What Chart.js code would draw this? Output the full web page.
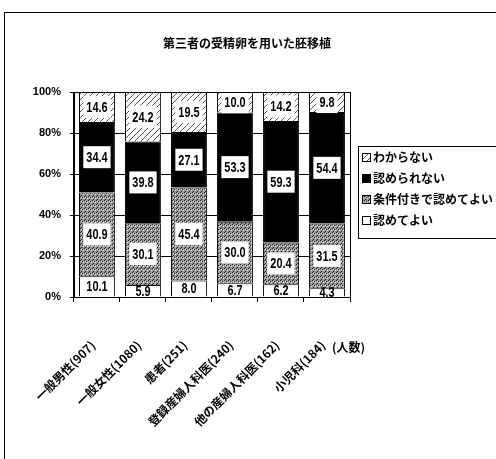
<!DOCTYPE html>
<html>
<head>
<meta charset="utf-8">
<script src="https://cdn.jsdelivr.net/npm/chart.js@4.4.1/dist/chart.umd.min.js"></script>
<style>
  body { margin: 0; background: #fff; }
  #wrap { width: 496px; height: 459px; }
</style>
</head>
<body>
<div id="wrap"><canvas id="chart"></canvas></div>
<script>
const chartTitle = "第三者の受精卵を用いた胚移植";
const categories = ["一般男性(907)", "一般女性(1080)", "患者(251)", "登録産婦人科医(240)", "他の産婦人科医(162)", "小児科(184)"];
const seriesNames = ["認めてよい", "条件付きで認めてよい", "認められない", "わからない"];
// bottom to top
const okValues = [10.1, 5.9, 8.0, 6.7, 6.2, 4.3];
const conditionalValues = [40.9, 30.1, 45.4, 30.0, 20.4, 31.5];
const notOkValues = [34.4, 39.8, 27.1, 53.3, 59.3, 54.4];
const unknownValues = [14.6, 24.2, 19.5, 10.0, 14.2, 9.8];
const yTicks = [0, 20, 40, 60, 80, 100];
const unitNote = "(人数)";

const numFont = '"Liberation Sans", Arial, sans-serif';
const jpFont = '"Noto Sans CJK JP", sans-serif';

// fill patterns like the printed original
function makeHatch() {
  const c = document.createElement("canvas");
  c.width = 6; c.height = 6;
  const g = c.getContext("2d");
  g.fillStyle = "#fff";
  g.fillRect(0, 0, 6, 6);
  g.strokeStyle = "#555";
  g.lineWidth = 1;
  g.beginPath();
  g.moveTo(0, 6); g.lineTo(6, 0);
  g.moveTo(-1, 1); g.lineTo(1, -1);
  g.moveTo(5, 7); g.lineTo(7, 5);
  g.stroke();
  return g.createPattern(c, "repeat");
}

function makeStipple() {
  const c = document.createElement("canvas");
  c.width = 4; c.height = 4;
  const g = c.getContext("2d");
  g.fillStyle = "#959595";
  g.fillRect(0, 0, 4, 4);
  g.fillStyle = "#222";
  g.fillRect(0, 0, 1, 1);
  g.fillRect(2, 1, 1, 1);
  g.fillRect(1, 3, 1, 1);
  g.fillStyle = "#e8e8e8";
  g.fillRect(3, 2, 1, 1);
  g.fillRect(1, 1, 1, 1);
  return g.createPattern(c, "repeat");
}

const fills = ["#ffffff", makeStipple(), "#000000", makeHatch()];
const seriesData = [okValues, conditionalValues, notOkValues, unknownValues];

const datasets = seriesNames.map((name, i) => ({
  label: name,
  data: seriesData[i],
  backgroundColor: fills[i],
  borderColor: "#000",
  borderWidth: 1,
  categoryPercentage: 1.0,
  barPercentage: 0.78,
}));

// white boxes with the values (narrowed digits like the original)
const valueLabels = {
  id: "valueLabels",
  afterDatasetsDraw(chart) {
    const ctx = chart.ctx;
    ctx.save();
    ctx.font = "bold 14px " + numFont;
    ctx.textAlign = "center";
    ctx.textBaseline = "middle";
    const squeeze = 0.78;
    chart.data.datasets.forEach((ds, i) => {
      const meta = chart.getDatasetMeta(i);
      meta.data.forEach((bar, j) => {
        const txt = ds.data[j].toFixed(1);
        const cy = (bar.y + bar.base) / 2;
        const w = ctx.measureText(txt).width * squeeze + 6;
        if (i > 0) {
          ctx.fillStyle = "#fff";
          ctx.fillRect(bar.x - w / 2, cy - 11, w, 22);
        }
        ctx.fillStyle = "#000";
        ctx.save();
        ctx.translate(bar.x, cy + 1);
        ctx.scale(squeeze, 1);
        ctx.fillText(txt, 0, 0);
        ctx.restore();
      });
    });
    ctx.restore();
  },
};

// frame, title, plot border, legend, unit note
const decorations = {
  id: "decorations",
  afterDraw(chart) {
    const ctx = chart.ctx;
    const a = chart.chartArea;
    ctx.save();
    ctx.strokeStyle = "#000";
    ctx.lineWidth = 1;
    ctx.beginPath();
    ctx.moveTo(4, 12.5); ctx.lineTo(496, 12.5);
    ctx.moveTo(4.5, 12); ctx.lineTo(4.5, 459);
    ctx.stroke();
    ctx.strokeRect(Math.round(a.left) + 0.5, Math.round(a.top) + 0.5, Math.round(a.right - a.left), Math.round(a.bottom - a.top));

    ctx.fillStyle = "#000";
    ctx.font = "bold 12px " + jpFont;
    ctx.textAlign = "center";
    ctx.textBaseline = "middle";
    ctx.fillText(chartTitle, 247, 43);

    ctx.font = "bold 12px " + jpFont;
    ctx.textAlign = "left";
    ctx.fillText(unitNote, 332, 347);

    // legend
    const lx = 358, ly = 146;
    ctx.strokeRect(lx + 0.5, ly + 0.5, 150, 92);
    ctx.font = "bold 12px " + jpFont;
    const order = [3, 2, 1, 0];
    order.forEach((di, k) => {
      const y = ly + 11 + k * 21;
      ctx.fillStyle = chart.data.datasets[di].backgroundColor;
      ctx.fillRect(lx + 4, y - 4, 8, 8);
      ctx.strokeRect(lx + 4.5, y - 3.5, 8, 8);
      ctx.fillStyle = "#000";
      ctx.fillText(chart.data.datasets[di].label, lx + 15, y);
    });
    ctx.restore();
  },
};

new Chart(document.getElementById("chart"), {
  type: "bar",
  data: { labels: categories, datasets: datasets },
  options: {
    responsive: true,
    maintainAspectRatio: false,
    animation: false,
    devicePixelRatio: 1,
    layout: { padding: { top: 92, right: 146, bottom: 0, left: 0 } },
    plugins: {
      legend: { display: false },
      tooltip: { enabled: false },
    },
    scales: {
      x: {
        stacked: true,
        afterFit: (s) => { s.height = 162; },
        grid: { display: true, drawOnChartArea: false, offset: true, color: "#000", tickLength: 5 },
        border: { color: "#000" },
        ticks: {
          color: "#000",
          font: { family: jpFont, size: 12, weight: "bold" },
          minRotation: 45,
          maxRotation: 45,
          padding: 36,
          labelOffset: -4,
        },
      },
      y: {
        stacked: true,
        min: 0,
        max: 100,
        afterFit: (s) => { s.width = 67; },
        afterBuildTicks: (s) => { s.ticks = yTicks.map((v) => ({ value: v })); },
        grid: { color: "#000", tickLength: 4 },
        border: { color: "#000" },
        ticks: {
          color: "#000",
          padding: 9,
          font: { family: numFont, size: 11, weight: "bold" },
          callback: (v) => v + "%",
        },
      },
    },
  },
  plugins: [valueLabels, decorations],
});
</script>
</body>
</html>
